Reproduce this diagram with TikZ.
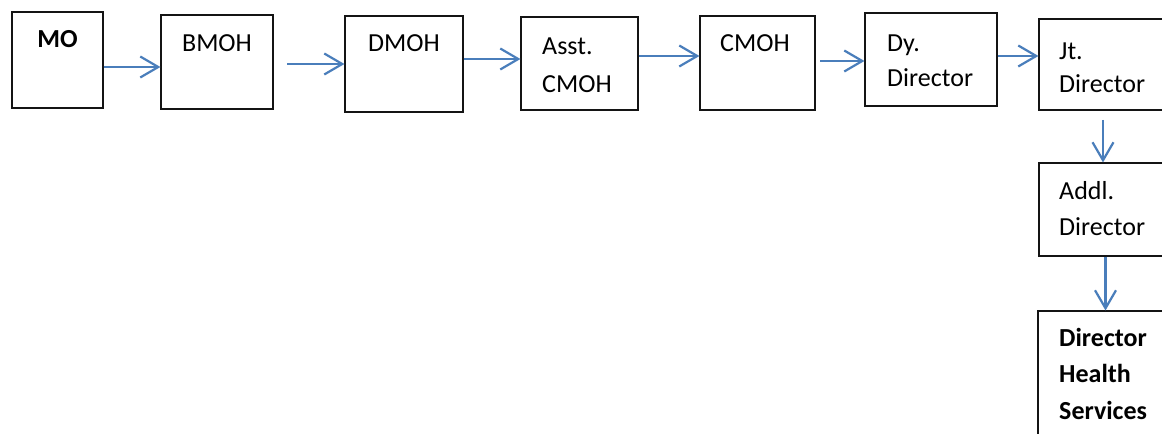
\documentclass[tikz,border=0pt]{standalone}
\usepackage{fontspec}
\setmainfont{Carlito}
\usetikzlibrary{arrows.meta,fit}
\definecolor{arrowblue}{RGB}{74,126,187}
\definecolor{boxline}{RGB}{20,20,20}
\begin{document}
\begin{tikzpicture}[x=1bp,y=-1bp,
  box/.style={draw=boxline,line width=1.1bp,inner sep=0pt},
  lbl/.style={font=\fontsize{26bp}{31bp}\selectfont,inner sep=0pt,anchor=base west},
  clbl/.style={lbl,anchor=base},
  flow/.style={draw=arrowblue,line width=2.2bp,-{Straight Barb[length=18bp,width=21bp,line width=2.2bp]}}]
\useasboundingbox (0,0) rectangle (1162,434);
\fill[white] (0,0) rectangle (1162,434);
% boxes
\node[box,fit={(12,12) (103,108)}] (mo) {};
\node[box,fit={(161,15) (273,109)}] (bmoh) {};
\node[box,fit={(345,16) (463,112)}] (dmoh) {};
\node[box,fit={(521,17) (638,110)}] (asst) {};
\node[box,fit={(700,16) (815,110)}] (cmoh) {};
\node[box,fit={(865,13) (997,106)}] (dy) {};
\node[box,fit={(1039,19) (1172,110)}] (jt) {};
\node[box,fit={(1039,163) (1172,256)}] (addl) {};
\node[box,fit={(1038,311) (1172,448)}] (dhs) {};
% texts
\node[clbl,font=\fontsize{26bp}{31bp}\selectfont\bfseries] (tmo) at (57.5,48) {MO};
\node[clbl] (tbmoh) at (217,52) {BMOH};
\node[clbl] (tdmoh) at (404,52) {DMOH};
\node[lbl] (tasst1) at (542,55) {Asst.};
\node[lbl] (tasst2) at (542,93) {CMOH};
\node[lbl] (tcmoh) at (720,52) {CMOH};
\node[lbl] (tdy1) at (887,52) {Dy.};
\node[lbl] (tdy2) at (887,87) {Director};
\node[lbl] (tjt1) at (1059,60) {Jt.};
\node[lbl] (tjt2) at (1059,93) {Director};
\node[lbl] (taddl1) at (1059,200) {Addl.};
\node[lbl] (taddl2) at (1059,236) {Director};
\node[lbl,font=\fontsize{26bp}{31bp}\selectfont\bfseries] (tdhs1) at (1059,347) {Director};
\node[lbl,font=\fontsize{26bp}{31bp}\selectfont\bfseries] (tdhs2) at (1059,383) {Health};
\node[lbl,font=\fontsize{26bp}{31bp}\selectfont\bfseries] (tdhs3) at (1059,420) {Services};
% arrow levels and free starts
\coordinate (y1) at (0,67);
\coordinate (y3) at (0,59);
\coordinate (y4) at (0,56);
\coordinate (y6) at (0,56);
\coordinate (s2) at (287,64);
\coordinate (s5) at (820,61);
\coordinate (s7) at (1103,120);
% connectors
\draw[flow] (mo.east |- y1) -- (bmoh.west |- y1);
\draw[flow] (s2) -- (dmoh.west |- s2);
\draw[flow] (dmoh.east |- y3) -- (asst.west |- y3);
\draw[flow] (asst.east |- y4) -- (cmoh.west |- y4);
\draw[flow] (s5) -- (dy.west |- s5);
\draw[flow] (dy.east |- y6) -- (jt.west |- y6);
\draw[flow] (s7) -- (s7 |- addl.north);
\draw[flow] (addl.south) -- (addl.south |- dhs.north);
\end{tikzpicture}
\end{document}
